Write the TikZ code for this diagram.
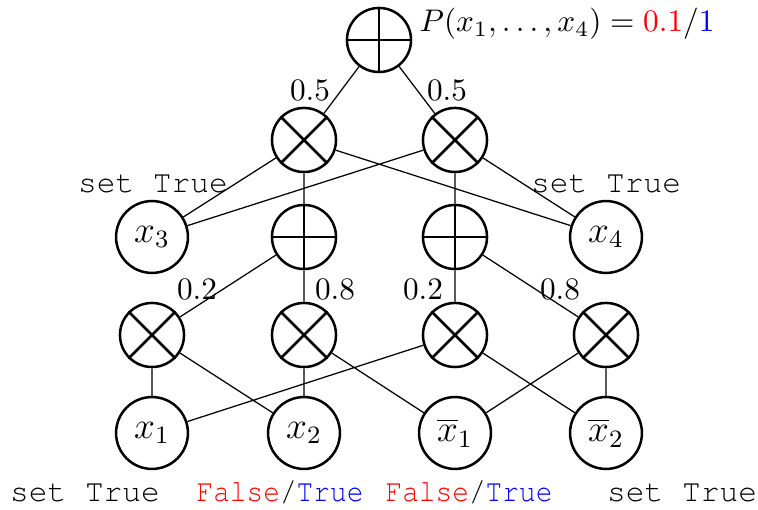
\documentclass[tikz,border=0pt]{standalone}
\usepackage{fontspec}
\usepackage{graphicx}
\newcommand{\cour}{\usefont{T1}{pcr}{m}{n}}
\newcommand{\ftlab}{\scalebox{0.89}[1]{\textcolor{red}{False}/\textcolor{blue}{True}}}
\begin{document}
\begin{tikzpicture}[x=0.32pt,y=-0.32pt,
  leaf/.style={circle,draw,thick,minimum size=23pt,inner sep=0pt,font=\large},
  opnode/.style={circle,draw,thick,minimum size=20.5pt,inner sep=0pt},
  plusnode/.style={opnode,append after command={
     \pgfextra{\draw[thick] (\tikzlastnode.north)--(\tikzlastnode.south) (\tikzlastnode.west)--(\tikzlastnode.east);}}},
  timesnode/.style={opnode,append after command={
     \pgfextra{\draw[thick] (\tikzlastnode.45)--(\tikzlastnode.225) (\tikzlastnode.135)--(\tikzlastnode.315);}}},
  conn/.style={draw,line width=0.4pt},
  wlabel/.style={inner sep=0pt},
  ttlabel/.style={inner sep=0pt,font=\cour}]
\useasboundingbox (0,0) rectangle (758,510);
% nodes
\node[plusnode] (top) at (379,40) {};
\node[timesnode] (mL) at (304,140) {};
\node[timesnode] (mR) at (455,140) {};
\node[leaf] (x3) at (152,237) {$x_3$};
\node[plusnode] (pL) at (304,237) {};
\node[plusnode] (pR) at (455,237) {};
\node[leaf] (x4) at (606,237) {$x_4$};
\node[timesnode] (t1) at (152,335) {};
\node[timesnode] (t2) at (304,335) {};
\node[timesnode] (t3) at (455,335) {};
\node[timesnode] (t4) at (606,335) {};
\node[leaf] (x1) at (152,433) {$x_1$};
\node[leaf] (x2) at (304,433) {$x_2$};
\node[leaf] (nx1) at (455,433) {$\overline{x}_1$};
\node[leaf] (nx2) at (606,433) {$\overline{x}_2$};
% connectors
\path[conn] (top)--(mL) (top)--(mR)
  (mL)--(x3) (mR)--(x3) (mR)--(x4) (mL)--(x4)
  (mL)--(pL) (mR)--(pR)
  (pL)--(t1) (pL)--(t2) (pR)--(t3) (pR)--(t4)
  (t1)--(x1) (t1)--(x2) (t2)--(x2) (t2)--(nx1)
  (t3)--(x1) (t3)--(nx2) (t4)--(nx1) (t4)--(nx2);
% labels
\node[wlabel,anchor=west] (ptxt) at (419,24) {$P(x_1,\ldots,x_4)=\textcolor{red}{0.1}/\textcolor{blue}{1}$};
\node[wlabel] (w1) at (310,90) {$0.5$};
\node[wlabel] (w2) at (447,90) {$0.5$};
\node[wlabel] (w3) at (197,289) {$0.2$};
\node[wlabel] (w4) at (335,289) {$0.8$};
\node[wlabel] (w5) at (423,289) {$0.2$};
\node[wlabel] (w6) at (560,289) {$0.8$};
\node[ttlabel] (s3) at (153,184) {set True};
\node[ttlabel] (s4) at (606,184) {set True};
\node[ttlabel] (s1) at (85,493) {set True};
\node[ttlabel] (s2) at (280,493) {\ftlab};
\node[ttlabel] (s5) at (469,493) {\ftlab};
\node[ttlabel] (s6) at (682,493) {set True};
\end{tikzpicture}
\end{document}
